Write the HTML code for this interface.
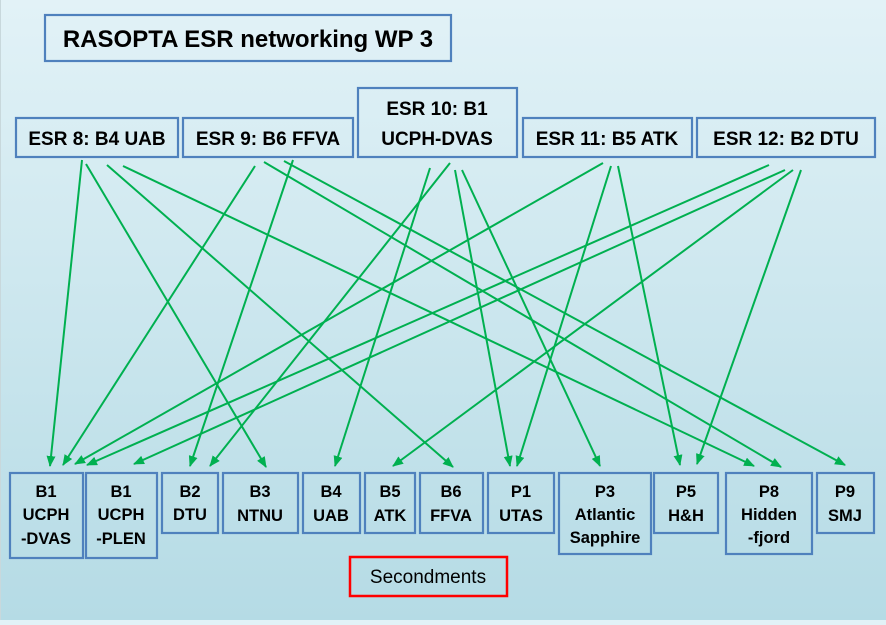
<!DOCTYPE html>
<html><head><meta charset="utf-8"><style>
html,body{margin:0;padding:0;}
body{width:886px;height:620px;overflow:hidden;background:linear-gradient(#e2f2f7,#b5dbe5);}
svg text{font-family:"Liberation Sans",sans-serif;font-weight:bold;fill:#000;text-anchor:middle;}
</style></head><body>
<svg width="886" height="620" viewBox="0 0 886 620" xmlns="http://www.w3.org/2000/svg">
<defs>
<marker id="a" markerWidth="11" markerHeight="9" refX="10" refY="4.5" orient="auto" markerUnits="userSpaceOnUse">
<path d="M0,0 L11,4.5 L0,9 Z" fill="#00b050"/></marker>
</defs>
<line x1="0" y1="0" x2="0" y2="620" stroke="#c8d8dc" stroke-width="2"/>
<g fill="none" stroke="#4f81bd" stroke-width="2.2">
<rect x="45" y="15" width="406" height="46"/>
<rect x="16" y="118" width="162" height="39"/>
<rect x="183" y="118" width="170" height="39"/>
<rect x="358" y="88" width="159" height="69"/>
<rect x="523" y="118" width="169" height="39"/>
<rect x="697" y="118" width="178" height="39"/>
<rect x="10" y="473" width="73" height="85"/>
<rect x="86" y="473" width="71" height="85"/>
<rect x="162" y="473" width="56" height="60"/>
<rect x="223" y="473" width="75" height="60"/>
<rect x="303" y="473" width="57" height="60"/>
<rect x="365" y="473" width="50" height="60"/>
<rect x="420" y="473" width="63" height="60"/>
<rect x="488" y="473" width="66" height="60"/>
<rect x="559" y="473" width="92" height="81"/>
<rect x="654" y="473" width="64" height="60"/>
<rect x="726" y="473" width="86" height="81"/>
<rect x="817" y="473" width="57" height="60"/>
</g>
<rect x="350" y="557" width="157" height="39" fill="none" stroke="#ff0000" stroke-width="2.5"/>
<g stroke="#00b050" stroke-width="2" marker-end="url(#a)">
<line x1="82" y1="160" x2="50" y2="466"/>
<line x1="86" y1="164" x2="266" y2="467"/>
<line x1="107" y1="165" x2="453" y2="467"/>
<line x1="123" y1="166" x2="754" y2="466"/>
<line x1="255" y1="166" x2="63" y2="465"/>
<line x1="264" y1="162" x2="781" y2="467"/>
<line x1="284" y1="161" x2="845" y2="465"/>
<line x1="293" y1="160" x2="190" y2="466"/>
<line x1="430" y1="168" x2="335" y2="466"/>
<line x1="450" y1="163" x2="210" y2="466"/>
<line x1="455" y1="170" x2="510" y2="466"/>
<line x1="462" y1="170" x2="600" y2="466"/>
<line x1="603" y1="163" x2="75" y2="464"/>
<line x1="611" y1="166" x2="517" y2="466"/>
<line x1="618" y1="166" x2="680" y2="465"/>
<line x1="769" y1="165" x2="87" y2="465"/>
<line x1="785" y1="170" x2="134" y2="464"/>
<line x1="793" y1="170" x2="393" y2="466"/>
<line x1="801" y1="170" x2="697" y2="464"/>
</g>
<text x="248" y="47" font-size="24">RASOPTA ESR networking WP 3</text>
<g font-size="19">
<text x="97" y="145">ESR 8: B4 UAB</text>
<text x="268" y="145">ESR 9: B6 FFVA</text>
<text x="437" y="115">ESR 10: B1</text>
<text x="437" y="145">UCPH-DVAS</text>
<text x="607" y="145">ESR 11: B5 ATK</text>
<text x="786" y="145">ESR 12: B2 DTU</text>
</g>
<g font-size="16.5">
<text x="46" y="497">B1</text><text x="46" y="520">UCPH</text><text x="46" y="544">-DVAS</text>
<text x="121" y="497">B1</text><text x="121" y="520">UCPH</text><text x="121" y="544">-PLEN</text>
<text x="190" y="497">B2</text><text x="190" y="520">DTU</text>
<text x="260" y="497">B3</text><text x="260" y="521">NTNU</text>
<text x="331" y="497">B4</text><text x="331" y="521">UAB</text>
<text x="390" y="497">B5</text><text x="390" y="521">ATK</text>
<text x="451" y="497">B6</text><text x="451" y="521">FFVA</text>
<text x="521" y="497">P1</text><text x="521" y="521">UTAS</text>
<text x="605" y="497">P3</text><text x="605" y="520">Atlantic</text><text x="605" y="543">Sapphire</text>
<text x="686" y="497">P5</text><text x="686" y="521">H&amp;H</text>
<text x="769" y="497">P8</text><text x="769" y="520">Hidden</text><text x="769" y="543">-fjord</text>
<text x="845" y="497">P9</text><text x="845" y="521">SMJ</text>
</g>
<text x="428" y="583" font-size="19" style="font-weight:normal">Secondments</text>
</svg>
</body></html>
